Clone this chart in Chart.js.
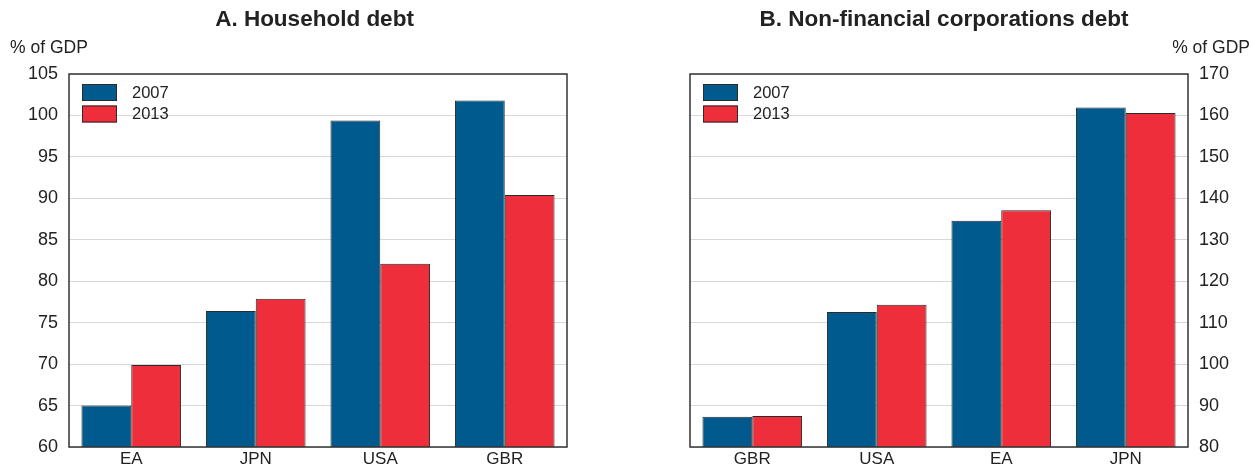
<!DOCTYPE html>
<html>
<head>
<meta charset="utf-8">
<script src="https://cdn.jsdelivr.net/npm/chart.js@4/dist/chart.umd.min.js"></script>
<style>
  html, body { margin: 0; padding: 0; background: #fff; }
  #wrap { width: 1259px; height: 469px; position: relative; }
  .box { position: absolute; top: 0; width: 629px; height: 469px; }
</style>
</head>
<body>
<div id="wrap">
  <div class="box" style="left:0"><canvas id="c1" width="629" height="469"></canvas></div>
  <div class="box" style="left:629px;width:630px"><canvas id="c2" width="630" height="469"></canvas></div>
</div>
<script>
// ---- Data ----
const titleA = "A. Household debt";
const titleB = "B. Non-financial corporations debt";
const unitLabel = "% of GDP";
const seriesNames = ["2007", "2013"];

const householdCategories = ["EA", "JPN", "USA", "GBR"];
const household2007 = [65.0, 76.4, 99.4, 101.8];
const household2013 = [69.9, 77.9, 82.1, 90.4];
const householdTicks = { min: 60, max: 105, step: 5 };

const corporateCategories = ["GBR", "USA", "EA", "JPN"];
const corporate2007 = [87.3, 112.6, 134.6, 161.9];
const corporate2013 = [87.5, 114.3, 137.1, 160.6];
const corporateTicks = { min: 80, max: 170, step: 10 };

// ---- Styles ----
const BLUE = "#005A8E";
const RED = "#EE2E3A";
const EDGE = "#2b2b2b";
const FONT = "'Liberation Sans', Arial, Helvetica, sans-serif";
const TXT = "#222";

function decor(title, side) {
  return {
    id: "decor",
    afterDraw(chart) {
      const ctx = chart.ctx;
      const a = chart.chartArea;
      ctx.save();
      // frame
      ctx.strokeStyle = "#333";
      ctx.lineWidth = 1.5;
      ctx.strokeRect(a.left, a.top, a.right - a.left, a.bottom - a.top);
      // title
      ctx.fillStyle = TXT;
      ctx.font = "bold 22.5px " + FONT;
      ctx.textAlign = "center";
      ctx.textBaseline = "middle";
      ctx.fillText(title, chart.width / 2, 20);
      // unit label
      ctx.font = "17.5px " + FONT;
      if (side === "left") {
        ctx.textAlign = "left";
        ctx.fillText(unitLabel, 10, 48);
      } else {
        ctx.textAlign = "right";
        ctx.fillText(unitLabel, chart.width - 9, 48);
      }
      // legend
      const ds = chart.data.datasets;
      ds.forEach((d, i) => {
        const x = a.left + 13, y = a.top + 10 + i * 21.5;
        ctx.fillStyle = d.backgroundColor;
        ctx.fillRect(x, y, 35, 17);
        ctx.strokeStyle = EDGE;
        ctx.lineWidth = 1;
        ctx.strokeRect(x + 0.5, y + 0.5, 34, 16);
        ctx.fillStyle = TXT;
        ctx.font = "16.5px " + FONT;
        ctx.textAlign = "left";
        ctx.textBaseline = "middle";
        ctx.fillText(d.label, x + 50, y + 9);
      });
      ctx.restore();
    }
  };
}

function makeChart(id, cats, s1, s2, ticks, title, side) {
  const axisWidth = side === "left" ? 69 : 71;
  return new Chart(document.getElementById(id), {
    type: "bar",
    data: {
      labels: cats,
      datasets: [
        { label: seriesNames[0], data: s1, backgroundColor: BLUE, borderColor: EDGE, borderWidth: 1, borderSkipped: "bottom" },
        { label: seriesNames[1], data: s2, backgroundColor: RED, borderColor: EDGE, borderWidth: 1, borderSkipped: "bottom" }
      ]
    },
    options: {
      responsive: false,
      animation: false,
      layout: { padding: { top: 74, bottom: 0, left: side === "left" ? 0 : 61, right: side === "left" ? 62 : 0 } },
      plugins: { legend: { display: false }, title: { display: false }, tooltip: { enabled: false } },
      datasets: { bar: { categoryPercentage: 0.8, barPercentage: 1.0 } },
      scales: {
        x: {
          grid: { display: false, drawTicks: false },
          border: { display: false },
          ticks: { color: TXT, font: { family: FONT, size: 17 }, padding: 2, maxRotation: 0 },
          afterFit(s) { s.height = 22; }
        },
        y: {
          position: side,
          min: ticks.min, max: ticks.max,
          grid: { color: "#d8d8d8", lineWidth: 1, drawTicks: false },
          border: { display: false },
          ticks: { stepSize: ticks.step, color: TXT, font: { family: FONT, size: 18 }, padding: 11 },
          afterFit(s) { s.width = axisWidth; }
        }
      }
    },
    plugins: [decor(title, side)]
  });
}

makeChart("c1", householdCategories, household2007, household2013, householdTicks, titleA, "left");
makeChart("c2", corporateCategories, corporate2007, corporate2013, corporateTicks, titleB, "right");
</script>
</body>
</html>
